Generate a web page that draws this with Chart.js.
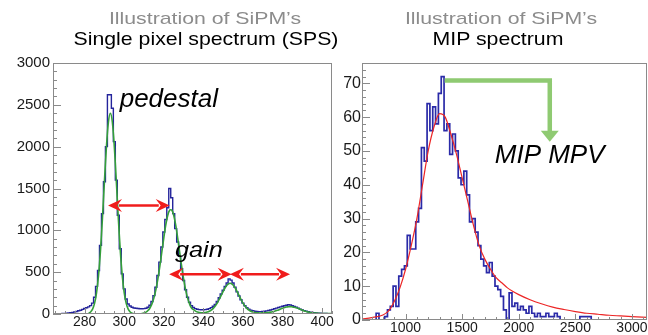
<!DOCTYPE html>
<html>
<head>
<meta charset="utf-8">
<script src="https://cdn.jsdelivr.net/npm/chart.js@4.4.1/dist/chart.umd.min.js"></script>
<style>
  body { margin: 0; background: #fff; width: 648px; height: 335px; position: relative; overflow: hidden; font-family: "Liberation Sans", Arial, sans-serif; }
  canvas { position: absolute; top: 0; }
  #sps { left: 0; }
  #mip { left: 336px; }
  .t { position: absolute; white-space: nowrap; line-height: 1; font-family: "Liberation Sans", Arial, sans-serif; }
  .g { color: #8c8c8c; font-size: 17px; transform: translateX(-50%) scaleX(1.25); top: 10px; }
  .b { color: #000; font-size: 19px; transform: translateX(-50%) scaleX(1.12); top: 29px; }
</style>
</head>
<body>
<canvas id="sps" width="336" height="335"></canvas>
<canvas id="mip" width="312" height="335"></canvas>
<div class="t g" style="left:205px">Illustration of SiPM’s</div>
<div class="t b" style="left:206px">Single pixel spectrum (SPS)</div>
<div class="t g" style="left:501px">Illustration of SiPM’s</div>
<div class="t b" style="left:498px">MIP spectrum</div>
<script>
// Single pixel spectrum: 1-unit bins centred on 264..405
const spsBinStart = 263.5;
const spsBinWidth = 1;
const spsCounts = [
  0, 1, 2, 3, 4, 6, 8, 10, 12, 15,
  20, 25, 30, 38, 45, 55, 65, 75, 85, 100,
  130, 200, 330, 520, 820, 1200, 1580, 2000, 2620, 2620,
  2460, 2060, 1600, 1180, 780, 480, 300, 180, 120, 95,
  80, 72, 68, 65, 63, 62, 64, 68, 80, 105,
  150, 220, 320, 460, 620, 800, 980, 1130, 1270, 1500,
  1390, 1200, 1020, 860, 690, 540, 400, 290, 200, 140,
  100, 78, 64, 56, 52, 50, 50, 52, 56, 64,
  76, 92, 115, 150, 195, 240, 285, 330, 370, 420,
  405, 370, 320, 265, 215, 170, 130, 98, 75, 58,
  46, 38, 33, 30, 28, 28, 30, 33, 37, 42,
  48, 55, 62, 70, 78, 85, 92, 98, 104, 110,
  108, 100, 90, 80, 68, 58, 48, 40, 33, 27,
  22, 18, 15, 12, 10, 9, 8, 7, 6, 5,
  5, 4
];
// green fit, one value per unit from 282
const spsFitStart = 282;
const spsFit = [
  9, 24, 58, 127, 253, 459, 761, 1151, 1588, 1997,
  2292, 2400, 2292, 1997, 1588, 1151, 761, 459, 253, 127,
  58, 24, 9, 3, 1, 1, 2, 5, 11, 22,
  41, 72, 121, 193, 292, 420, 572, 741, 911, 1064,
  1180, 1242, 1242, 1180, 1064, 911, 741, 572, 420, 292,
  193, 121, 72, 51, 34, 23, 17, 15, 16, 18,
  24, 33, 47, 67, 95, 131, 175, 222, 271, 314,
  347, 365, 365, 347, 314, 271, 222, 175, 131, 95,
  67, 47, 33, 24, 18, 15, 13, 12, 14, 15,
  16, 18, 22, 27, 33, 41, 49, 59, 68, 77,
  84, 86, 88, 85, 81, 74, 66, 56, 47, 37,
  30, 23, 18, 14, 11, 10, 8, 6, 6, 5,
  5, 5, 4, 4
];
const spsXTicks = [280, 300, 320, 340, 360, 380, 400];
const spsYTicks = [0, 500, 1000, 1500, 2000, 2500, 3000];

// MIP spectrum: 25-unit bins from 615
const mipBinStart = 615;
const mipBinWidth = 25;
const mipCounts = [
  0, 0, 0, 0, 0, 2, 0, 0, 1, 3,
  4, 10, 4, 13, 15, 16, 25, 21, 21, 29,
  33, 51, 47, 64, 56, 63, 58, 67, 72, 56,
  58, 49, 55, 50, 42, 40, 44, 37, 29, 30,
  26, 22, 18, 16, 14, 17, 13, 10, 9, 7,
  3, 0, 8, 4, 5, 3, 4, 3, 2, 4,
  2, 1, 2, 1, 1, 2, 1, 1, 2, 1,
  0, 0, 0, 0, 0, 0, 0, 1, 1, 1,
  1, 0, 0, 0, 0, 0, 0, 0, 0, 0,
  0, 0, 0, 0, 0, 0, 0, 0, 0, 0, 0
];
const mipFitX = [615, 700, 800, 850, 900, 950, 1000, 1050, 1100, 1150, 1200, 1250, 1300, 1350, 1400, 1450, 1500,
  1550, 1600, 1650, 1700, 1750, 1800, 1850, 1900, 2000, 2100, 2200, 2300, 2400, 2500, 2600, 2700, 2800, 2900, 3000, 3133];
const mipFit = [0.3, 0.7, 1.5, 2.7, 5.5, 9.5, 15, 22, 30, 40, 50, 57, 61, 60, 55, 49, 42,
  35, 28, 22, 18, 15, 12.5, 11, 9.5, 7.5, 6, 4.8, 3.8, 3.1, 2.5, 2, 1.7, 1.4, 1.2, 1, 0.8];
const mipXTicks = [1000, 1500, 2000, 2500, 3000];
const mipYTicks = [0, 10, 20, 30, 40, 50, 60, 70];

// annotations (data coordinates)
const gainArrows = [[291.8, 323.0, 1297], [322.7, 354.3, 474], [353.4, 383.8, 474]];

function histPoints(start, width, counts) {
  const pts = counts.map((c, i) => ({ x: start + i * width, y: c }));
  pts.push({ x: start + counts.length * width, y: counts[counts.length - 1] });
  return pts;
}

// ROOT-like frame with inner tick marks
const frameTicks = {
  id: 'frameTicks',
  afterDatasetsDraw(chart, args, opts) {
    const { ctx, chartArea: a, scales: { x, y } } = chart;
    ctx.save();
    ctx.strokeStyle = '#8a8a8a';
    ctx.lineWidth = 1;
    ctx.beginPath();
    for (let v = Math.ceil(y.min / opts.yMinor) * opts.yMinor; v <= y.max; v += opts.yMinor) {
      const py = Math.round(y.getPixelForValue(v)) + 0.5;
      const len = opts.yTicks.includes(v) ? 8 : 4;
      ctx.moveTo(a.left, py); ctx.lineTo(a.left + len, py);
    }
    for (let v = Math.ceil(x.min / opts.xMinor) * opts.xMinor; v <= x.max; v += opts.xMinor) {
      const px = Math.round(x.getPixelForValue(v)) + 0.5;
      const len = opts.xTicks.includes(v) ? 6 : 3;
      ctx.moveTo(px, a.bottom); ctx.lineTo(px, a.bottom - len);
    }
    ctx.stroke();
    ctx.strokeRect(Math.round(a.left) + 0.5, Math.round(a.top) + 0.5,
      Math.round(a.right - a.left) - 1, Math.round(a.bottom - a.top) - 1);
    ctx.restore();
  }
};

function label(ctx, text, px, py, size, sx) {
  ctx.save();
  ctx.translate(px, py);
  ctx.scale(sx, 1);
  ctx.font = 'italic ' + size + 'px "Liberation Sans", Arial, sans-serif';
  ctx.fillStyle = '#000';
  ctx.textBaseline = 'alphabetic';
  ctx.fillText(text, 0, 0);
  ctx.restore();
}

function redArrow(ctx, x1, x2, y) {
  const hl = 14, hw = 6.5;
  ctx.save();
  ctx.fillStyle = ctx.strokeStyle = '#f01c1c';
  ctx.lineWidth = 2.5;
  ctx.beginPath();
  ctx.moveTo(x1 + hl - 3, y); ctx.lineTo(x2 - hl + 3, y);
  ctx.stroke();
  ctx.beginPath();
  ctx.moveTo(x1, y); ctx.lineTo(x1 + hl, y - hw); ctx.lineTo(x1 + hl * 0.65, y); ctx.lineTo(x1 + hl, y + hw);
  ctx.closePath();
  ctx.moveTo(x2, y); ctx.lineTo(x2 - hl, y - hw); ctx.lineTo(x2 - hl * 0.65, y); ctx.lineTo(x2 - hl, y + hw);
  ctx.closePath();
  ctx.fill();
  ctx.restore();
}

const spsNotes = {
  id: 'spsNotes',
  afterDatasetsDraw(chart) {
    const { ctx, scales: { x, y } } = chart;
    for (const [a, b, v] of gainArrows) {
      redArrow(ctx, x.getPixelForValue(a), x.getPixelForValue(b), y.getPixelForValue(v));
    }
    label(ctx, 'pedestal', x.getPixelForValue(297.7), y.getPixelForValue(2470), 25, 1.04);
    label(ctx, 'gain', x.getPixelForValue(325.6), y.getPixelForValue(680), 22, 1.15);
  }
};

const mipNotes = {
  id: 'mipNotes',
  afterDatasetsDraw(chart) {
    const { ctx, scales: { x, y } } = chart;
    const x0 = x.getPixelForValue(1345), xc = x.getPixelForValue(2274);
    const y0 = y.getPixelForValue(70.8), yt = y.getPixelForValue(52.7);
    ctx.save();
    ctx.strokeStyle = ctx.fillStyle = '#8fca72';
    ctx.lineWidth = 4.5;
    ctx.lineJoin = 'miter';
    ctx.beginPath();
    ctx.moveTo(x0, y0); ctx.lineTo(xc, y0); ctx.lineTo(xc, yt - 10);
    ctx.stroke();
    ctx.beginPath();
    ctx.moveTo(xc - 9, yt - 11); ctx.lineTo(xc + 9, yt - 11); ctx.lineTo(xc, yt);
    ctx.closePath();
    ctx.fill();
    ctx.restore();
    label(ctx, 'MIP MPV', x.getPixelForValue(1788), y.getPixelForValue(46.4), 26, 1.0);
  }
};

function axes(xMin, xMax, yMin, yMax, xTicks, yTicks, yWidth, xHeight, yFont, xFont, yPad, xPad) {
  return {
    x: {
      type: 'linear', min: xMin, max: xMax,
      grid: { display: false, drawTicks: false }, border: { display: false },
      afterBuildTicks: s => { s.ticks = xTicks.map(v => ({ value: v })); },
      afterFit: s => { s.height = xHeight; },
      ticks: { autoSkip: false, maxRotation: 0, padding: xPad, color: '#1a1a1a',
        font: { size: xFont, family: '"Liberation Sans", Arial' }, callback: v => String(v) }
    },
    y: {
      type: 'linear', min: yMin, max: yMax,
      grid: { display: false, drawTicks: false }, border: { display: false },
      afterBuildTicks: s => { s.ticks = yTicks.map(v => ({ value: v })); },
      afterFit: s => { s.width = yWidth; },
      ticks: { autoSkip: false, padding: yPad, color: '#1a1a1a',
        font: { size: yFont, family: '"Liberation Sans", Arial' }, callback: v => String(v) }
    }
  };
}

new Chart(document.getElementById('sps'), {
  type: 'line',
  data: {
    datasets: [
      {
        data: spsFit.map((v, i) => ({ x: spsFitStart + i, y: v })),
        borderColor: '#35a03a', borderWidth: 1.6, pointRadius: 0, tension: 0.3, order: 0
      },
      {
        data: histPoints(spsBinStart, spsBinWidth, spsCounts),
        stepped: 'before', borderColor: '#24249c', borderWidth: 1.4, pointRadius: 0, order: 1
      }
    ]
  },
  options: {
    responsive: false, animation: false, events: [],
    layout: { padding: { top: 63, right: 4, left: 0, bottom: 0 } },
    plugins: {
      legend: { display: false }, tooltip: { enabled: false },
      frameTicks: { xMinor: 5, yMinor: 100, xTicks: spsXTicks, yTicks: spsYTicks }
    },
    scales: axes(264, 405, 0, 3000, spsXTicks, spsYTicks, 53, 21, 15, 14, 3, 0)
  },
  plugins: [frameTicks, spsNotes]
});

new Chart(document.getElementById('mip'), {
  type: 'line',
  data: {
    datasets: [
      {
        data: mipFitX.map((v, i) => ({ x: v, y: mipFit[i] })),
        borderColor: '#ec2626', borderWidth: 1.2, pointRadius: 0, cubicInterpolationMode: 'monotone', order: 0
      },
      {
        data: histPoints(mipBinStart, mipBinWidth, mipCounts),
        stepped: 'before', borderColor: '#2a2aa8', borderWidth: 1.7, pointRadius: 0, order: 1
      }
    ]
  },
  options: {
    responsive: false, animation: false, events: [],
    layout: { padding: { top: 63, right: 1, left: 0, bottom: 0 } },
    plugins: {
      legend: { display: false }, tooltip: { enabled: false },
      frameTicks: { xMinor: 100, yMinor: 2, xTicks: mipXTicks, yTicks: mipYTicks }
    },
    scales: axes(615, 3133, 0, 76, mipXTicks, mipYTicks, 26, 15, 16, 14, 1, 0)
  },
  plugins: [frameTicks, mipNotes]
});
</script>
</body>
</html>
